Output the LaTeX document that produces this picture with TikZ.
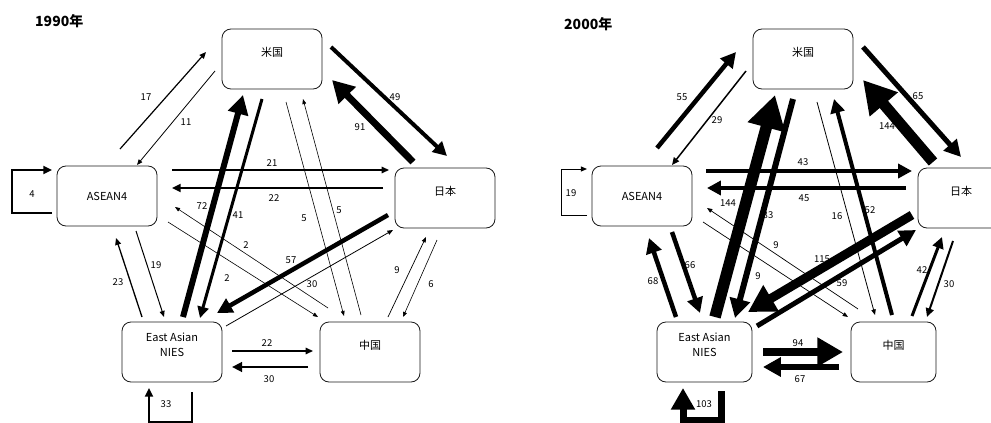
\documentclass[tikz,border=0pt]{standalone}
\usepackage{fontspec}
\setmainfont{Noto Sans CJK JP}
\usetikzlibrary{arrows.meta,calc}

\newcommand\uptext[1]{\raisebox{6.5pt}[\height][\depth]{#1}}

\begin{document}
\begin{tikzpicture}[x=1pt, y=-1pt,
  box/.style={draw=black!90, line width=0.8pt, rounded corners=9pt,
    minimum width=100pt, minimum height=60pt, inner sep=0pt,
    font=\fontsize{11}{15}\selectfont},
  flow/.style={line width=#1, -{Triangle[length=3.5pt 2.6, width=2pt 3]}},
  num/.style={font=\fontsize{9.5}{10}\selectfont, inner sep=0pt},
  yeartitle/.style={font=\fontsize{14}{16}\selectfont\bfseries, inner sep=0pt, anchor=west}]
  \useasboundingbox (0,0) rectangle (991,423);
  \clip (0,0) rectangle (991,423);

  % --- 1990 ---
  \node[yeartitle] (y1) at (35,21) {1990年};
  \node[box] (us1) at (272,59) {\uptext{米国}};
  \node[box] (as1) at (107,196) {ASEAN4};
  \node[box] (jp1) at (445,198) {\uptext{日本}};
  \node[box] (ni1) at (172,352) {\uptext{\begin{tabular}{@{}c@{}}East Asian\\NIES\end{tabular}}};
  \node[box] (cn1) at (370,352) {\uptext{中国}};

  % ASEAN4 <-> US
  \draw[flow=1.2] ($(as1)+(13,-47)$) -- ($(us1)+(-66,-7)$) node[num] (a1) at (146,97) {17};
  \draw[flow=0.8] ($(us1)+(-57,12)$) -- ($(as1)+(30,-31)$) node[num] (a2) at (186,122) {11};
  % US <-> Japan
  \draw[flow=4] ($(us1)+(59,-12)$) -- ($(jp1)+(2,-42)$) node[num] (a3) at (395,97) {49};
  \draw[flow=7] ($(jp1)+(-32,-36)$) -- ($(us1)+(60,21)$) node[num] (a4) at (360,127) {91};
  % ASEAN4 <-> Japan
  \draw[flow=1.5] ($(as1)+(65,-26)$) -- ($(jp1)+(-56,-28)$) node[num] (a5) at (272,163) {21};
  \draw[flow=2] ($(jp1)+(-62,-10)$) -- ($(as1)+(65,-8)$) node[num] (a6) at (274,198) {22};
  % NIES <-> US
  \draw[flow=6] ($(ni1)+(11,-35)$) -- ($(us1)+(-29,36)$) node[num] (a7) at (202,206) {72};
  \draw[flow=3] ($(us1)+(-10,40)$) -- ($(ni1)+(28,-34)$) node[num] (a8) at (238,215) {41};
  % ASEAN4 <-> China
  \draw[flow=0.6] ($(as1)+(61,26)$) -- ($(cn1)+(-52,-35)$) node[num] (a9) at (227,278) {2};
  \draw[flow=0.6] ($(cn1)+(-42,-44)$) -- ($(as1)+(68,11)$) node[num] (a10) at (246,245) {2};
  % US <-> China
  \draw[flow=0.6] ($(us1)+(14,43)$) -- ($(cn1)+(-26,-36)$) node[num] (a11) at (304,218) {5};
  \draw[flow=0.6] ($(cn1)+(-9,-37)$) -- ($(us1)+(31,40)$) node[num] (a12) at (339,210) {5};
  % Japan <-> NIES
  \draw[flow=4.5] ($(jp1)+(-57,17)$) -- ($(ni1)+(45,-39)$) node[num] (a13) at (291,260) {57};
  \draw[flow=0.8] ($(ni1)+(54,-26)$) -- ($(jp1)+(-52,32)$) node[num] (a14) at (312,284) {30};
  % China <-> Japan
  \draw[flow=0.7] ($(cn1)+(18,-35)$) -- ($(jp1)+(-19,39)$) node[num] (a15) at (397,270) {9};
  \draw[flow=0.6] ($(jp1)+(-8,42)$) -- ($(cn1)+(33,-35)$) node[num] (a16) at (431,284) {6};
  % ASEAN4 <-> NIES
  \draw[flow=1] ($(as1)+(29,35)$) -- ($(ni1)+(-8,-35)$) node[num] (a17) at (156,265) {19};
  \draw[flow=1.3] ($(ni1)+(-30,-35)$) -- ($(as1)+(9,42)$) node[num] (a18) at (118,282) {23};
  % NIES <-> China
  \draw[flow=1.5] ($(ni1)+(60,-1)$) -- ($(cn1)+(-57,-1)$) node[num] (a19) at (267,343) {22};
  \draw[flow=2.5] ($(cn1)+(-62,15)$) -- ($(ni1)+(60,15)$) node[num] (a20) at (269,379) {30};
  % inside trade
  \draw[flow=2] ($(as1)+(-55,17)$) -- ++(-40,0) |- ($(as1)+(-55,-26)$) node[num] (a21) at (32,194) {4};
  \draw[flow=2] ($(ni1)+(20,40)$) -- ++(0,30) -| ($(ni1)+(-23,36)$) node[num] (a22) at (166,404) {33};

  % --- 2000 ---
  \node[yeartitle] (y2) at (564,24) {2000年};
  \node[box] (us2) at (803,59) {\uptext{米国}};
  \node[box] (as2) at (642,196) {ASEAN4};
  \node[box, minimum width=86pt] (jp2) at (961,198) {\uptext{日本}};
  \node[box, minimum width=95pt] (ni2) at (704.5,352) {\uptext{\begin{tabular}{@{}c@{}}East Asian\\NIES\end{tabular}}};
  \node[box, minimum width=85pt] (cn2) at (893.5,352) {\uptext{中国}};

  % ASEAN4 <-> US
  \draw[flow=4.5] ($(as2)+(15,-48)$) -- ($(us2)+(-67,-7)$) node[num] (b1) at (682,97) {55};
  \draw[flow=1.5] ($(us2)+(-57,12)$) -- ($(as2)+(30,-31)$) node[num] (b2) at (717,120) {29};
  % US <-> Japan
  \draw[flow=5] ($(us2)+(60,-12)$) -- ($(jp2)+(0,-41)$) node[num] (b3) at (918,96) {65};
  \draw[flow=11] ($(jp2)+(-28,-36)$) -- ($(us2)+(60,21)$) node[num] (b4) at (887,126) {144};
  % ASEAN4 <-> Japan
  \draw[flow=4] ($(as2)+(64,-25)$) -- ($(jp2)+(-49,-27)$) node[num] (b5) at (803,162) {43};
  \draw[flow=4] ($(jp2)+(-55,-10)$) -- ($(as2)+(65,-8)$) node[num] (b6) at (804,198) {45};
  % NIES <-> US
  \draw[flow=11.5] ($(ni2)+(10.5,-35)$) -- ($(us2)+(-28,36)$) node[num] (b7) at (728,203) {144};
  \draw[flow=6] ($(us2)+(-10,40)$) -- ($(ni2)+(30.5,-34)$) node[num] (b8) at (768,215) {83};
  % ASEAN4 <-> China
  \draw[flow=0.7] ($(as2)+(61,26)$) -- ($(cn2)+(-45.5,-35)$) node[num] (b9) at (758,276) {9};
  \draw[flow=0.7] ($(cn2)+(-35.5,-43)$) -- ($(as2)+(65,12)$) node[num] (b10) at (776,245) {9};
  % US <-> China
  \draw[flow=0.8] ($(us2)+(14,43)$) -- ($(cn2)+(-18.5,-37)$) node[num] (b11) at (837,216) {16};
  \draw[flow=4] ($(cn2)+(-1.5,-37)$) -- ($(us2)+(31,40)$) node[num] (b12) at (870,210) {52};
  % Japan <-> NIES
  \draw[flow=9] ($(jp2)+(-49,17)$) -- ($(ni2)+(43.5,-40)$) node[num] (b13) at (822,259) {115};
  \draw[flow=5] ($(ni2)+(52.5,-26)$) -- ($(jp2)+(-45,32)$) node[num] (b14) at (842,283) {59};
  % China <-> Japan
  \draw[flow=3] ($(cn2)+(18.5,-36)$) -- ($(jp2)+(-19,39)$) node[num] (b15) at (922,270) {42};
  \draw[flow=2] ($(jp2)+(-8,43)$) -- ($(cn2)+(33.5,-35)$) node[num] (b16) at (949,284) {30};
  % ASEAN4 <-> NIES
  \draw[flow=4.5] ($(as2)+(30,36)$) -- ($(ni2)+(-4.5,-39)$) node[num] (b17) at (690,265) {66};
  \draw[flow=4.5] ($(ni2)+(-28.5,-35)$) -- ($(as2)+(7,42)$) node[num] (b18) at (653,281) {68};
  % NIES <-> China
  \draw[flow=8.5] ($(ni2)+(58.5,0)$) -- ($(cn2)+(-50.5,0)$) node[num] (b19) at (798,343) {94};
  \draw[flow=5.5] ($(cn2)+(-54.5,15)$) -- ($(ni2)+(58.5,15)$) node[num] (b20) at (800,379) {67};
  % inside trade
  \draw[flow=1] ($(as2)+(-55,19)$) -- ++(-26,0) |- ($(as2)+(-55,-27)$) node[num] (b21) at (571,193) {19};
  \draw[flow=7] ($(ni2)+(16.5,39)$) -- ++(0,29) -| ($(ni2)+(-21.5,36)$) node[num] (b22) at (704,404) {103};
\end{tikzpicture}
\end{document}
